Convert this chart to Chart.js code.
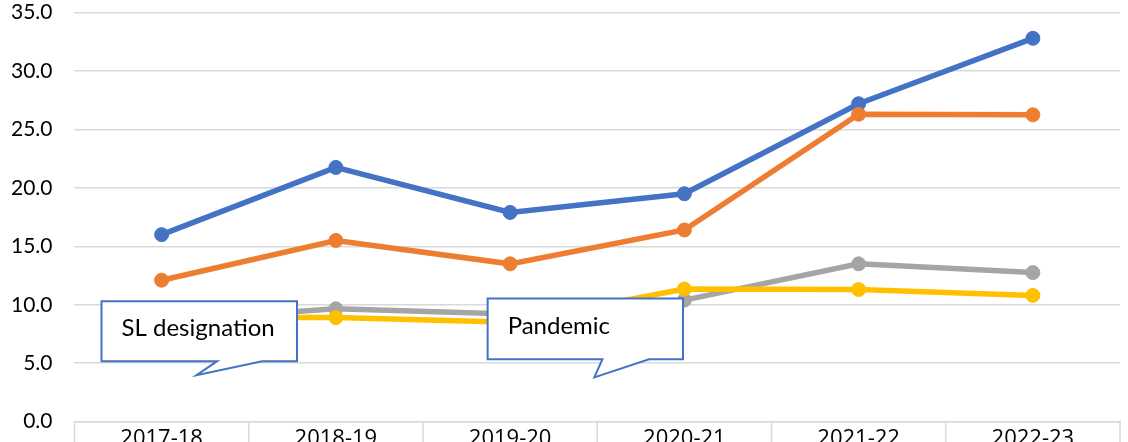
<!DOCTYPE html>
<html>
<head>
<meta charset="utf-8">
<script src="https://cdn.jsdelivr.net/npm/chart.js@4"></script>
<style>
  html, body { margin: 0; padding: 0; background: #fff; overflow: hidden; }
  #wrap { width: 1128px; height: 442px; overflow: hidden; }
  #box { position: relative; width: 1128px; height: 470px; }
</style>
</head>
<body>
<div id="wrap"><div id="box"><canvas id="lineChart"></canvas></div></div>
<script>
// 카테고리와 계열 값
var years = ['2017-18', '2018-19', '2019-20', '2020-21', '2021-22', '2022-23'];
var blueSeries = [16.0, 21.75, 17.9, 19.5, 27.2, 32.8];
var orangeSeries = [12.1, 15.5, 13.5, 16.4, 26.3, 26.25];
var graySeries = [8.6, 9.65, 9.2, 10.4, 13.5, 12.75];
var yellowSeries = [8.9, 8.9, 8.5, 11.35, 11.3, 10.8];
var yTicks = [0, 5, 10, 15, 20, 25, 30, 35];

// 말풍선 (카테고리 인덱스 / 값 단위)
var callouts = [
    { text: 'SL designation', left: -0.345, right: 0.777, top: 10.3, bottom: 5.17, tailA: 0.577, tailB: 0.319, tipX: 0.2, tipY: 3.97 },
    { text: 'Pandemic', left: 1.871, right: 2.992, top: 10.53, bottom: 5.34, tailA: 2.797, tailB: 2.53, tipX: 2.483, tipY: 3.78 }
];

// x축 아래 칸막이 선
var separatorPlugin = {
    id: 'separators',
    afterDraw: function (chart) {
        var ctx = chart.ctx;
        var xs = chart.scales.x;
        var bottom = chart.chartArea.bottom;
        ctx.save();
        ctx.strokeStyle = '#d9d9d9';
        ctx.lineWidth = 1.5;
        for (var i = 0; i <= years.length; i++) {
            var px = xs.getPixelForValue(i - 0.5);
            ctx.beginPath();
            ctx.moveTo(px, bottom);
            ctx.lineTo(px, chart.height);
            ctx.stroke();
        }
        ctx.restore();
    }
};

var calloutPlugin = {
    id: 'callouts',
    afterDatasetsDraw: function (chart) {
        var ctx = chart.ctx;
        var xs = chart.scales.x;
        var ys = chart.scales.y;
        callouts.forEach(function (c) {
            var l = xs.getPixelForValue(c.left), r = xs.getPixelForValue(c.right);
            var t = ys.getPixelForValue(c.top), b = ys.getPixelForValue(c.bottom);
            ctx.save();
            ctx.beginPath();
            ctx.moveTo(l, t);
            ctx.lineTo(r, t);
            ctx.lineTo(r, b);
            ctx.lineTo(xs.getPixelForValue(c.tailA), b);
            ctx.lineTo(xs.getPixelForValue(c.tipX), ys.getPixelForValue(c.tipY));
            ctx.lineTo(xs.getPixelForValue(c.tailB), b);
            ctx.lineTo(l, b);
            ctx.closePath();
            ctx.fillStyle = '#ffffff';
            ctx.fill();
            ctx.lineWidth = 2;
            ctx.strokeStyle = '#4472C4';
            ctx.stroke();
            ctx.fillStyle = '#000000';
            ctx.font = '24px Lato';
            ctx.textBaseline = 'middle';
            ctx.fillText(c.text, l + 20, (t + b) / 2 - 3);
            ctx.restore();
        });
    }
};

function makeSet(data, color, order) {
    return {
        data: data,
        borderColor: color,
        backgroundColor: color,
        pointBackgroundColor: color,
        pointBorderColor: color,
        borderWidth: 5.5,
        pointRadius: 7,
        pointBorderWidth: 1,
        tension: 0,
        fill: false,
        order: order
    };
}

var lineChart = new Chart(document.getElementById('lineChart'), {
    type: 'line',
    data: {
        labels: years,
        datasets: [
            makeSet(blueSeries, '#4472C4', 4),
            makeSet(orangeSeries, '#ED7D31', 3),
            makeSet(graySeries, '#A5A5A5', 2),
            makeSet(yellowSeries, '#FFC000', 1)
        ]
    },
    options: {
        responsive: true,
        maintainAspectRatio: false,
        animation: false,
        layout: { padding: { left: 11, right: 1, top: 0, bottom: 14 } },
        plugins: { legend: { display: false }, tooltip: { enabled: false } },
        scales: {
            x: {
                offset: true,
                grid: { offset: true, drawOnChartArea: false, drawTicks: false },
                border: { display: true, color: '#d9d9d9', width: 1.5 },
                ticks: { padding: 4, color: '#000', font: { family: 'Open Sans', size: 22 } }
            },
            y: {
                min: 0,
                max: 35,
                afterBuildTicks: function (scale) {
                    scale.ticks = yTicks.map(function (v) { return { value: v }; });
                },
                grid: { color: '#d9d9d9', lineWidth: 1.5, drawTicks: true, tickLength: 22, tickColor: 'rgba(0,0,0,0)' },
                border: { display: false },
                ticks: {
                    padding: 0,
                    color: '#000',
                    font: { family: 'Lato', size: 21 },
                    callback: function (v) { return Number(v).toFixed(1); }
                }
            }
        }
    },
    plugins: [calloutPlugin, separatorPlugin]
});
</script>
</body>
</html>
